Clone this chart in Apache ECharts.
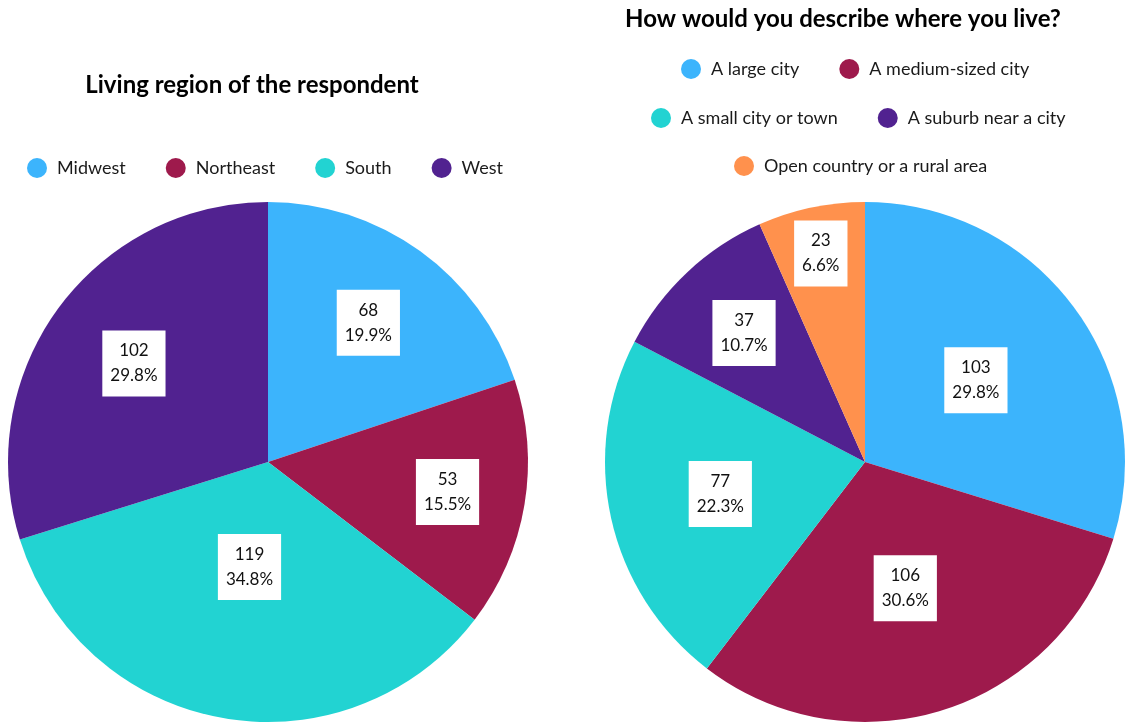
<!DOCTYPE html>
<html>
<head>
<meta charset="utf-8">
<script src="https://cdn.jsdelivr.net/npm/echarts@6/dist/echarts.min.js"></script>
<style>
  html, body { margin: 0; padding: 0; background: #fff; }
  #chart { width: 1126px; height: 725px; }
</style>
</head>
<body>
<div id="chart"></div>
<script>
// Survey answers: region of residence
const regionNames = ['Midwest', 'Northeast', 'South', 'West'];
const regionCounts = [68, 53, 119, 102];

// Survey answers: type of place lived in
const placeNames = ['A large city', 'A medium-sized city', 'A small city or town', 'A suburb near a city', 'Open country or a rural area'];
const placeCounts = [103, 106, 77, 37, 23];

// Slice colours
const regionColors = ['#3cb4fc', '#9e1a4c', '#22d3d2', '#512290'];
const placeColors = ['#3cb4fc', '#9e1a4c', '#22d3d2', '#512290', '#ff914d'];

// How far out along each slice's bisector its label box sits (fraction of radius)
const regionLabelReach = [0.66, 0.70, 0.41, 0.64];
const placeLabelReach = [0.53, 0.51, 0.57, 0.68, 0.82];

const FONT = 'Lato, "Open Sans", sans-serif';
const R = 260;
const leftCenter = [268, 462];
const rightCenter = [865, 462];

// Places each label on the bisector of its slice (clockwise from 12 o'clock)
function bisectorLayout(values, reach, center) {
  const total = values.reduce((a, b) => a + b, 0);
  return function (params) {
    let before = 0;
    for (let i = 0; i < params.dataIndex; i++) before += values[i];
    const mid = (before + values[params.dataIndex] / 2) / total * Math.PI * 2;
    const d = reach[params.dataIndex] * R;
    return {
      x: center[0] + Math.sin(mid) * d,
      y: center[1] - Math.cos(mid) * d,
      align: 'center',
      verticalAlign: 'middle'
    };
  };
}

function pieSeries(names, values, colors, reach, center) {
  return {
    type: 'pie',
    center: center,
    radius: R,
    startAngle: 90,
    clockwise: true,
    percentPrecision: 1,
    avoidLabelOverlap: false,
    emphasis: { disabled: true },
    itemStyle: { borderWidth: 0 },
    label: {
      show: true,
      position: 'inside',
      formatter: '{c}\n{d}%',
      fontFamily: FONT,
      fontSize: 17,
      lineHeight: 25,
      color: '#111111',
      backgroundColor: '#ffffff',
      padding: [8, 8, 8, 8],
      align: 'center'
    },
    labelLine: { show: false },
    labelLayout: bisectorLayout(values, reach, center),
    data: names.map((n, i) => ({ name: n, value: values[i], itemStyle: { color: colors[i] } }))
  };
}

function legendRow(items, top, left) {
  return {
    data: items,
    top: top,
    left: left,
    orient: 'horizontal',
    icon: 'circle',
    itemWidth: 20,
    itemHeight: 20,
    itemGap: 40,
    selectedMode: false,
    textStyle: { fontFamily: FONT, fontSize: 18, color: '#1a1a1a', padding: [0, 0, 0, 5] }
  };
}

const chart = echarts.init(document.getElementById('chart'), null, { renderer: 'canvas' });

const option = {
  backgroundColor: '#ffffff',
  animation: false,
  title: [
    {
      text: 'Living region of the respondent',
      left: 247, top: 80, textAlign: 'center', textVerticalAlign: 'middle',
      textStyle: { fontFamily: FONT, fontSize: 24, fontWeight: 'bold', color: '#000' }
    },
    {
      text: 'How would you describe where you live?',
      left: 838, top: 14, textAlign: 'center', textVerticalAlign: 'middle',
      textStyle: { fontFamily: FONT, fontSize: 24, fontWeight: 'bold', color: '#000' }
    }
  ],
  legend: [
    legendRow(regionNames, 153, 22),
    legendRow(placeNames.slice(0, 2), 54, 676),
    legendRow(placeNames.slice(2, 4), 103, 646),
    legendRow(placeNames.slice(4), 151, 729)
  ],
  series: [
    pieSeries(regionNames, regionCounts, regionColors, regionLabelReach, leftCenter),
    pieSeries(placeNames, placeCounts, placeColors, placeLabelReach, rightCenter)
  ]
};

chart.setOption(option);
</script>
</body>
</html>
